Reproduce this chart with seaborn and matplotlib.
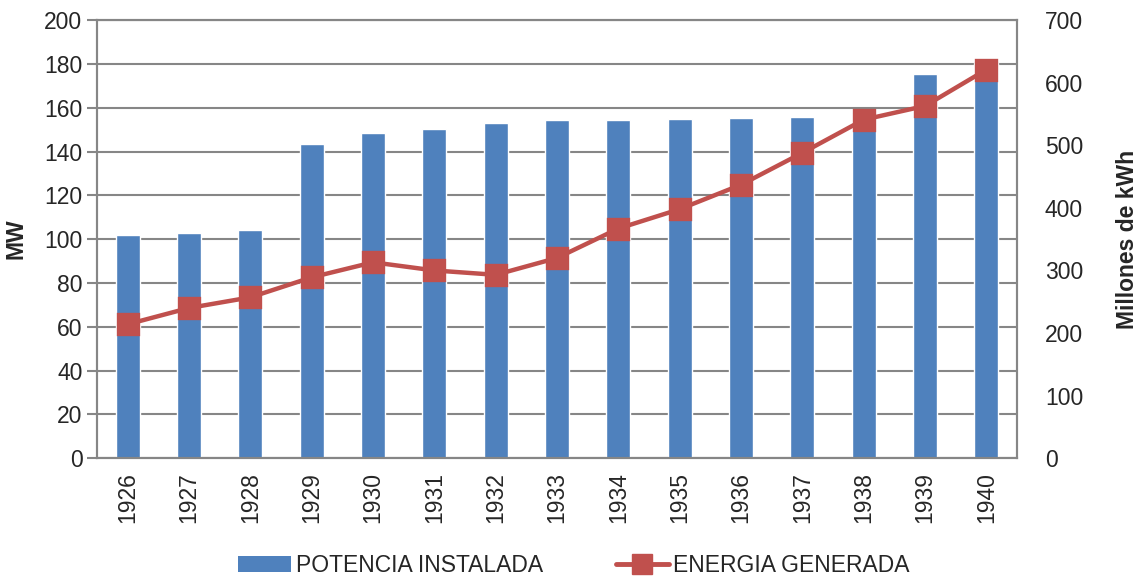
import matplotlib
matplotlib.use("Agg")
import matplotlib.pyplot as plt
import pandas as pd
import seaborn as sns
from matplotlib.patches import Patch
from matplotlib.lines import Line2D

# Data
years = ['1926', '1927', '1928', '1929', '1930', '1931', '1932', '1933',
         '1934', '1935', '1936', '1937', '1938', '1939', '1940']
potencia_mw = [102, 103, 104, 143.6, 148.6, 150.4, 153.2, 154.4,
               154.4, 154.7, 155.3, 155.9, 157.4, 175.3, 180.5]
energia_gwh = [214, 240, 257, 289, 313, 300, 293, 320,
               367, 398, 437, 488, 541, 563, 621]

df = pd.DataFrame({'year': years, 'potencia': potencia_mw, 'energia': energia_gwh})

blue = '#4F81BD'
red = '#C0504D'
grid = '#868686'
fs = 16.5

sns.set_style('white')
plt.rcParams['font.family'] = ['Liberation Sans', 'DejaVu Sans']

fig, ax = plt.subplots(figsize=(11.48, 5.77), dpi=100)
fig.subplots_adjust(left=0.0845, right=0.886, top=0.965, bottom=0.206)

sns.barplot(data=df, x='year', y='potencia', color=blue, width=0.39,
            saturation=1, ax=ax, zorder=2)
ax.set_ylim(0, 200)
ax.set_yticks(range(0, 201, 20))
ax.yaxis.grid(True, color=grid, linewidth=1.5)
ax.set_axisbelow(True)
ax.set_xlabel('')
ax.set_ylabel('MW', fontsize=fs, fontweight='bold', labelpad=12)
ax.tick_params(axis='x', labelrotation=90, labelsize=fs, length=0, pad=10)
ax.tick_params(axis='y', labelsize=fs, length=7, color=grid, width=1.5, left=True)
for s in ax.spines.values():
    s.set_color(grid)
    s.set_linewidth(1.5)

ax2 = ax.twinx()
sns.pointplot(data=df, x='year', y='energia', color=red, markers='s',
              markersize=14, linewidth=3.2, ax=ax2, zorder=3)
ax2.set_ylim(0, 700)
ax2.set_yticks(range(0, 701, 100))
ax2.set_xlim(-0.5, len(years) - 0.5)
ax.set_xlim(-0.5, len(years) - 0.5)
ax2.set_ylabel('Millones de kWh', fontsize=fs, fontweight='bold', labelpad=24)
ax2.tick_params(axis='y', labelsize=fs, length=0, pad=20)
for s in ax2.spines.values():
    s.set_color(grid)
    s.set_linewidth(1.5)

handles = [Patch(facecolor=blue, edgecolor='none'),
           Line2D([0], [0], color=red, linewidth=3.5, marker='s', markersize=15)]
fig.legend(handles, ['POTENCIA INSTALADA', 'ENERGIA GENERADA'],
           loc='lower center', bbox_to_anchor=(0.5, -0.035), ncol=2, frameon=False,
           fontsize=fs, columnspacing=3.2, handlelength=2.3, handletextpad=0.2)

fig.savefig('out.png', dpi=100)
